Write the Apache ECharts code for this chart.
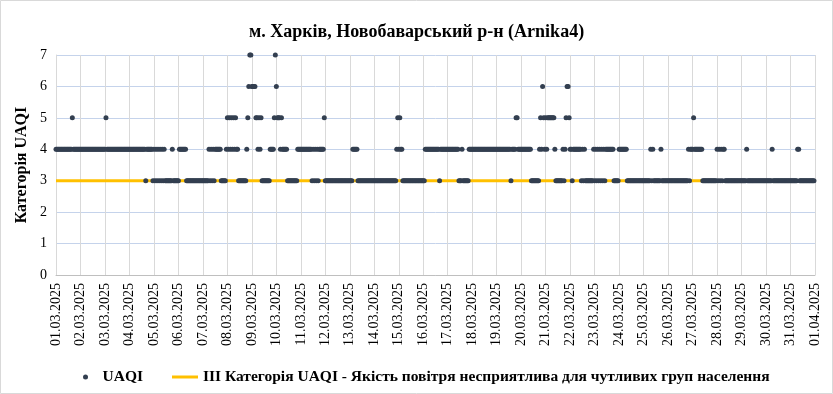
<!DOCTYPE html>
<html>
<head>
<meta charset="utf-8">
<script src="https://cdn.jsdelivr.net/npm/echarts@6/dist/echarts.min.js"></script>
<style>
html,body{margin:0;padding:0;background:#fff;}
#chart{width:833px;height:394px;}
</style>
</head>
<body>
<div id="chart"></div>
<script>
// Date tick labels (one per day, 24 hourly points per day)
const dateLabels = [
  '01.03.2025','02.03.2025','03.03.2025','04.03.2025','05.03.2025','06.03.2025','07.03.2025','08.03.2025',
  '09.03.2025','10.03.2025','11.03.2025','12.03.2025','13.03.2025','14.03.2025','15.03.2025','16.03.2025',
  '17.03.2025','18.03.2025','19.03.2025','20.03.2025','21.03.2025','22.03.2025','23.03.2025','24.03.2025',
  '25.03.2025','26.03.2025','27.03.2025','28.03.2025','29.03.2025','30.03.2025','31.03.2025','01.04.2025'
];

// Hourly UAQI category, one string of 24 hourly values per day
const uaqiByDay = [
  '444444444444444454444444', // 01.03
  '444444444444444444444444', // 02.03
  '454444444444444444444444', // 03.03
  '444444444444444434444443', // 04.03
  '434343434343333333433333', // 05.03
  '344444443333333333333333', // 06.03
  '333333434343444444333334', // 07.03
  '545454545443333333345677', // 08.03
  '666655454533333333444457', // 09.03
  '655545444443333333333444', // 10.03
  '444444444443434343444445', // 11.03
  '333333333333333333333333', // 12.03
  '333444443333333333333333', // 13.03
  '333333333333333333333345', // 14.03
  '454433333333333333333333', // 15.03
  '334444444444444434444444', // 16.03
  '444444444443334333333444', // 17.03
  '444444444444444444444444', // 18.03
  '444444444444443444455444', // 19.03
  '444444444433333333454654', // 20.03
  '545555555433333334345665', // 21.03
  '443444444443434333333334', // 22.03
  '343434343434444444433333', // 23.03
  '444444443333333333333333', // 24.03
  '333333343433333334333333', // 25.03
  '333333333333333333334344', // 26.03
  '454444444433333333333333', // 27.03
  '434343443333333333333333', // 28.03
  '333334333333333333333333', // 29.03
  '333333433333333333333333', // 30.03
  '333333344333333333333333'  // 31.03
];

const thresholdValue = 3;
const seriesNames = ['UAQI', 'ІІІ Категорія UAQI - Якість повітря несприятлива для чутливих груп населення'];
const yTicks = [0, 1, 2, 3, 4, 5, 6, 7];

const hoursPerDay = 24;
const totalHours = dateLabels.length - 1;
const points = [];
uaqiByDay.forEach((s, d) => {
  for (let i = 0; i < s.length; i++) {
    points.push([d * hoursPerDay + i, Number(s[i])]);
  }
});
const thresholdLine = [[0, thresholdValue], [totalHours * hoursPerDay, thresholdValue]];

const serif = 'Liberation Serif';
const chart = echarts.init(document.getElementById('chart'), null, {renderer: 'canvas'});
chart.setOption({
  animation: false,
  backgroundColor: '#ffffff',
  graphic: [{
    type: 'rect', silent: true, z: -10,
    shape: {x: 0.5, y: 0.5, width: 832, height: 393},
    style: {fill: null, stroke: '#D9D9D9', lineWidth: 1}
  }],
  title: {
    text: 'м. Харків, Новобаварський р-н (Arnika4)',
    left: 'center', top: 18,
    textStyle: {fontFamily: serif, fontSize: 18, fontWeight: 'bold', color: '#000'}
  },
  legend: [{
    data: [seriesNames[0]],
    left: 78, top: 364,
    itemWidth: 24, itemHeight: 5,
    icon: 'circle',
    textStyle: {fontFamily: serif, fontSize: 15.5, fontWeight: 'bold', color: '#000'}
  }, {
    data: [seriesNames[1]],
    left: 167, top: 364,
    itemWidth: 26, itemHeight: 3,
    icon: 'rect',
    textStyle: {fontFamily: serif, fontSize: 15.5, fontWeight: 'bold', color: '#000'}
  }],
  grid: {left: 56, right: 18, top: 55, bottom: 119, containLabel: false},
  xAxis: {
    type: 'value',
    min: 0, max: totalHours * hoursPerDay, interval: hoursPerDay,
    axisLine: {show: true, lineStyle: {color: '#BFBFBF', width: 1}},
    axisTick: {show: false},
    splitLine: {show: true, lineStyle: {color: '#D9D9D9', width: 1}},
    axisLabel: {
      rotate: 90, margin: 8,
      fontFamily: serif, fontSize: 14, color: '#000',
      showMinLabel: true, showMaxLabel: true,
      formatter: v => dateLabels[Math.round(v / hoursPerDay)] || ''
    }
  },
  yAxis: {
    type: 'value',
    min: yTicks[0], max: yTicks[yTicks.length - 1], interval: 1,
    name: 'Категорія UAQI',
    nameLocation: 'middle', nameGap: 26,
    nameMoveOverlap: false,
    nameTextStyle: {fontFamily: serif, fontSize: 16, fontWeight: 'bold', color: '#000'},
    axisLine: {show: true, lineStyle: {color: '#D9D9D9'}},
    axisTick: {show: false},
    splitLine: {show: true, lineStyle: {color: '#C5D3EB', width: 1}},
    axisLabel: {fontFamily: serif, fontSize: 14, color: '#000', margin: 9}
  },
  series: [{
    name: seriesNames[1],
    type: 'line',
    data: thresholdLine,
    symbol: 'none',
    lineStyle: {color: '#FFC000', width: 3},
    itemStyle: {color: '#FFC000'},
    z: 2
  }, {
    name: seriesNames[0],
    type: 'scatter',
    data: points,
    symbol: 'circle',
    symbolSize: 5,
    itemStyle: {color: '#333F50', opacity: 1},
    z: 3
  }]
});
</script>
</body>
</html>
